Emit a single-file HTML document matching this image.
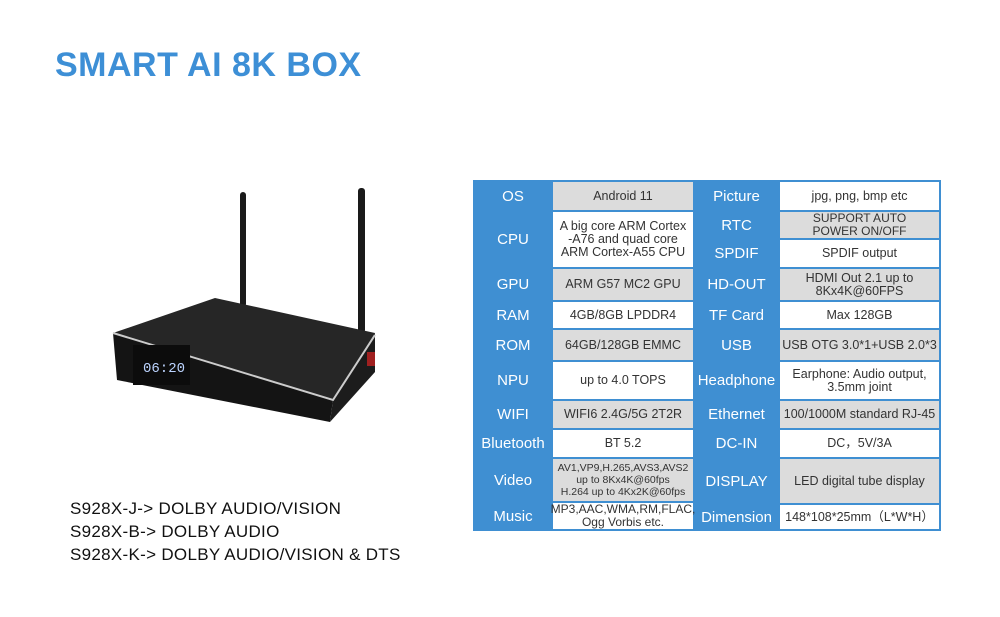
<!DOCTYPE html>
<html><head><meta charset="utf-8"><style>
body{margin:0;background:#fff;width:1000px;height:617px;overflow:hidden;position:relative;font-family:"Liberation Sans",sans-serif}
.title{position:absolute;left:55px;top:46px;font-size:34px;font-weight:bold;color:#3d8fd6;letter-spacing:0.5px}
.models{position:absolute;left:70px;top:497px;font-size:17px;line-height:23px;color:#111;letter-spacing:0.3px}
.c{position:absolute;display:flex;align-items:center;justify-content:center;text-align:center;box-sizing:border-box}
.k{background:#3f8fd2;color:#fff;font-size:15px}
.g{background:#dcdcdc;color:#333;font-size:12.5px;line-height:13px}
.w{background:#fff;color:#333;font-size:12.5px;line-height:13px}
</style></head><body>
<div class="title">SMART AI 8K BOX</div>
<svg style="position:absolute;left:0;top:0" width="470" height="450">
<rect x="240" y="192" width="6" height="115" rx="3" fill="#1a1a1a"/>
<rect x="358" y="188" width="7" height="145" rx="3" fill="#1a1a1a"/>
<polygon points="113,333 215,298 375,333 333,400" fill="#262626"/>
<polygon points="113,333 333,400 330,422 117,380" fill="#141414"/>
<polygon points="333,400 375,333 375,372 330,422" fill="#1c1c1c"/>
<polyline points="113,333 333,400 375,335" fill="none" stroke="#ccc" stroke-width="2"/>
<rect x="133" y="345" width="57" height="40" fill="#0c0c0c"/>
<text x="143" y="372" fill="#bcd4ff" font-size="14" font-family="Liberation Mono">06:20</text>
<rect x="367" y="352" width="8" height="14" fill="#a02020"/>
</svg>
<div class="models">S928X-J-&gt; DOLBY AUDIO/VISION<br>S928X-B-&gt; DOLBY AUDIO<br>S928X-K-&gt; DOLBY AUDIO/VISION &amp; DTS</div>
<div style="position:absolute;left:473px;top:180px;width:468px;height:351px;background:#3f8fd2"></div>
<div class="c k" style="left:475px;top:182px;width:76px;height:28px">OS</div>
<div class="c g" style="left:553px;top:182px;width:140px;height:28px">Android 11</div>
<div class="c k" style="left:475px;top:212px;width:76px;height:55px">CPU</div>
<div class="c w" style="left:553px;top:212px;width:140px;height:55px">A big core ARM Cortex<br>-A76 and quad core<br>ARM Cortex-A55 CPU</div>
<div class="c k" style="left:475px;top:269px;width:76px;height:31px">GPU</div>
<div class="c g" style="left:553px;top:269px;width:140px;height:31px">ARM G57 MC2 GPU</div>
<div class="c k" style="left:475px;top:302px;width:76px;height:26px">RAM</div>
<div class="c w" style="left:553px;top:302px;width:140px;height:26px">4GB/8GB LPDDR4</div>
<div class="c k" style="left:475px;top:330px;width:76px;height:30px">ROM</div>
<div class="c g" style="left:553px;top:330px;width:140px;height:30px">64GB/128GB EMMC</div>
<div class="c k" style="left:475px;top:362px;width:76px;height:37px">NPU</div>
<div class="c w" style="left:553px;top:362px;width:140px;height:37px">up to 4.0 TOPS</div>
<div class="c k" style="left:475px;top:401px;width:76px;height:27px">WIFI</div>
<div class="c g" style="left:553px;top:401px;width:140px;height:27px">WIFI6 2.4G/5G 2T2R</div>
<div class="c k" style="left:475px;top:430px;width:76px;height:27px">Bluetooth</div>
<div class="c w" style="left:553px;top:430px;width:140px;height:27px">BT 5.2</div>
<div class="c k" style="left:475px;top:459px;width:76px;height:42px">Video</div>
<div class="c g" style="left:553px;top:459px;width:140px;height:42px;font-size:10.5px;line-height:12px">AV1,VP9,H.265,AVS3,AVS2<br>up to 8Kx4K@60fps<br>H.264 up to 4Kx2K@60fps</div>
<div class="c k" style="left:475px;top:503px;width:76px;height:26px">Music</div>
<div class="c w" style="left:553px;top:503px;width:140px;height:26px;font-size:12px">MP3,AAC,WMA,RM,FLAC,<br>Ogg Vorbis etc.</div>
<div class="c k" style="left:695px;top:182px;width:83px;height:28px">Picture</div>
<div class="c w" style="left:780px;top:182px;width:159px;height:28px">jpg, png, bmp etc</div>
<div class="c k" style="left:695px;top:212px;width:83px;height:26px">RTC</div>
<div class="c g" style="left:780px;top:212px;width:159px;height:26px;font-size:12px">SUPPORT AUTO<br>POWER ON/OFF</div>
<div class="c k" style="left:695px;top:240px;width:83px;height:27px">SPDIF</div>
<div class="c w" style="left:780px;top:240px;width:159px;height:27px">SPDIF output</div>
<div class="c k" style="left:695px;top:269px;width:83px;height:31px">HD-OUT</div>
<div class="c g" style="left:780px;top:269px;width:159px;height:31px">HDMI Out 2.1 up to<br>8Kx4K@60FPS</div>
<div class="c k" style="left:695px;top:302px;width:83px;height:26px">TF Card</div>
<div class="c w" style="left:780px;top:302px;width:159px;height:26px">Max 128GB</div>
<div class="c k" style="left:695px;top:330px;width:83px;height:30px">USB</div>
<div class="c g" style="left:780px;top:330px;width:159px;height:30px">USB OTG 3.0*1+USB 2.0*3</div>
<div class="c k" style="left:695px;top:362px;width:83px;height:37px">Headphone</div>
<div class="c w" style="left:780px;top:362px;width:159px;height:37px">Earphone: Audio output,<br>3.5mm joint</div>
<div class="c k" style="left:695px;top:401px;width:83px;height:27px">Ethernet</div>
<div class="c g" style="left:780px;top:401px;width:159px;height:27px">100/1000M standard RJ-45</div>
<div class="c k" style="left:695px;top:430px;width:83px;height:27px">DC-IN</div>
<div class="c w" style="left:780px;top:430px;width:159px;height:27px">DC，5V/3A</div>
<div class="c k" style="left:695px;top:459px;width:83px;height:44px">DISPLAY</div>
<div class="c g" style="left:780px;top:459px;width:159px;height:44px">LED digital tube display</div>
<div class="c k" style="left:695px;top:505px;width:83px;height:24px">Dimension</div>
<div class="c w" style="left:780px;top:505px;width:159px;height:24px">148*108*25mm（L*W*H）</div>
</body></html>
